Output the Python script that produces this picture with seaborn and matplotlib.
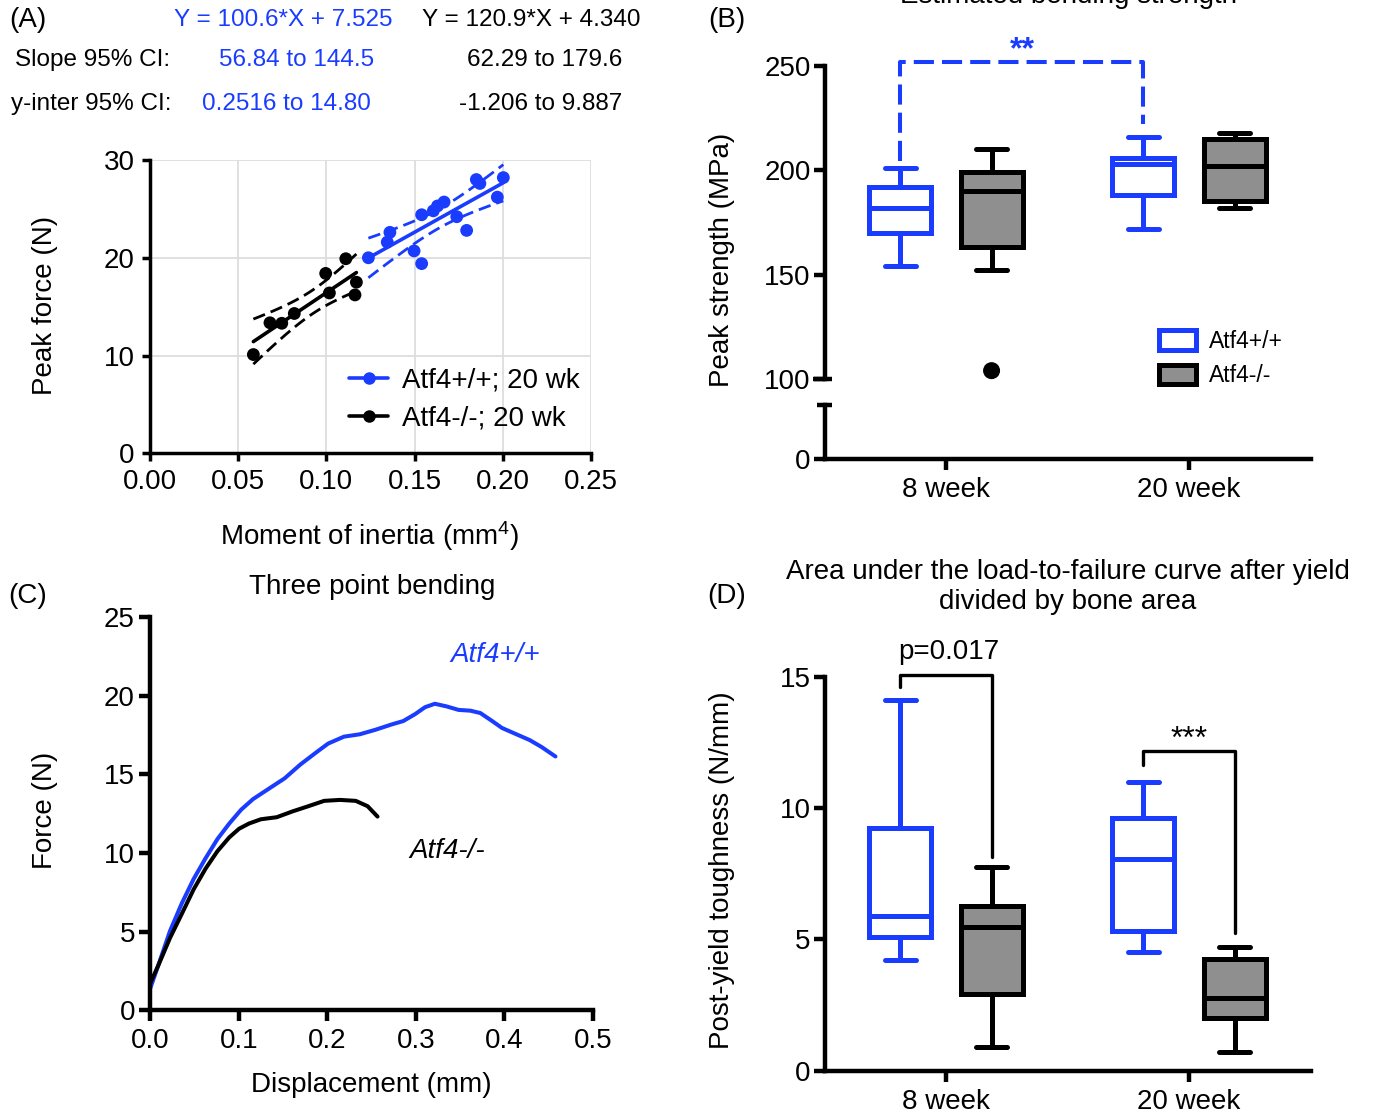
import numpy as np
import pandas as pd
import matplotlib
matplotlib.use("Agg")
import matplotlib.pyplot as plt
import matplotlib.transforms as mtransforms
from matplotlib.patches import Patch
from matplotlib.lines import Line2D
import seaborn as sns

# ---------------- data ----------------
# (A) peak force vs. moment of inertia, 20 week femurs
moi_wt = [0.1238, 0.136, 0.1345, 0.154, 0.1497, 0.154, 0.1606, 0.163, 0.1667,
          0.1739, 0.1795, 0.185, 0.187, 0.2003, 0.1969]
force_wt = [20.0, 22.6, 21.6, 24.4, 20.7, 19.4, 24.8, 25.3, 25.7,
            24.2, 22.8, 28.0, 27.6, 28.2, 26.2]
moi_ko = [0.0586, 0.068, 0.0747, 0.0818, 0.0996, 0.1017, 0.111, 0.117, 0.1162]
force_ko = [10.1, 13.35, 13.3, 14.3, 18.4, 16.4, 19.9, 17.5, 16.2]
fit_wt = (100.6, 7.525)          # slope, intercept
fit_ko = (120.9, 4.340)
slope_ci_wt = (56.84, 144.5)
slope_ci_ko = (62.29, 179.6)
intercept_ci_wt = (0.2516, 14.80)
intercept_ci_ko = (-1.206, 9.887)

# (C) representative force-displacement curves
disp_wt = [0.0, 0.0089, 0.0223, 0.0357, 0.049, 0.0625, 0.0759, 0.0893, 0.1027,
           0.1161, 0.1339, 0.1518, 0.1696, 0.1875, 0.2009, 0.2188, 0.2366,
           0.2545, 0.2723, 0.2857, 0.2991, 0.3103, 0.3214, 0.3348, 0.3482,
           0.3616, 0.3728, 0.3862, 0.3973, 0.4107, 0.4286, 0.442, 0.4576]
load_wt = [1.39, 2.82, 5.03, 6.8, 8.34, 9.66, 10.88, 11.87, 12.75,
           13.42, 14.08, 14.74, 15.62, 16.39, 16.95, 17.39, 17.54,
           17.83, 18.16, 18.38, 18.82, 19.26, 19.48, 19.31, 19.09,
           19.04, 18.89, 18.38, 17.94, 17.61, 17.17, 16.73, 16.13]
disp_ko = [0.0, 0.0089, 0.0223, 0.0357, 0.049, 0.0625, 0.0759, 0.0893, 0.1004,
           0.1116, 0.125, 0.1429, 0.1607, 0.1786, 0.1964, 0.2143, 0.2321,
           0.2455, 0.2567]
load_ko = [1.72, 2.82, 4.59, 6.13, 7.68, 9.0, 10.11, 10.99, 11.54,
           11.87, 12.14, 12.27, 12.64, 12.97, 13.31, 13.37, 13.31,
           12.97, 12.31]

weeks = ["8 week", "20 week"]
genotypes = ["Atf4+/+", "Atf4-/-"]

# (B) estimated bending strength (MPa): min, Q1, median, Q3, max
strength_wt_8 = [154, 170, 182, 192, 201]
strength_ko_8 = [152, 163, 190, 199, 210]
strength_wt_20 = [172, 188, 203, 206, 216]
strength_ko_20 = [182, 185, 202, 215, 218]
strength_outlier_ko_8 = [104]

# (D) post-yield toughness (N/mm): min, Q1, median, Q3, max
tough_wt_8 = [4.2, 5.1, 5.9, 9.25, 14.1]
tough_ko_8 = [0.9, 2.9, 5.45, 6.25, 7.75]
tough_wt_20 = [4.5, 5.3, 8.05, 9.6, 11.0]
tough_ko_20 = [0.7, 2.0, 2.75, 4.25, 4.7]

# ---------------- style ----------------
BLUE = "#1a3cff"
GRAY = "#8f8f8f"
W, H = 1373, 1114
FS = 20

sns.set_theme(style="ticks")
plt.rcParams["font.family"] = ["Liberation Sans", "DejaVu Sans"]
plt.rcParams["mathtext.fontset"] = "custom"
plt.rcParams["mathtext.rm"] = "Liberation Sans"
plt.rcParams["mathtext.it"] = "Liberation Sans:italic"
plt.rcParams["mathtext.bf"] = "Liberation Sans:bold"
for key in ("text.color", "axes.labelcolor", "xtick.color", "ytick.color",
            "xtick.labelcolor", "ytick.labelcolor", "axes.edgecolor"):
    plt.rcParams[key] = "black"

fig = plt.figure(figsize=(W / 100, H / 100), dpi=100)
fig.patch.set_facecolor("white")


def add_ax(left, top, right, bottom):
    return fig.add_axes([left / W, 1 - bottom / H, (right - left) / W, (bottom - top) / H])


def ftext(x, y, s, **kw):
    kw.setdefault("ha", "center")
    kw.setdefault("va", "center")
    kw.setdefault("fontsize", FS)
    kw.setdefault("color", "black")
    fig.text(x / W, 1 - y / H, s, **kw)


def style_axis(ax, lw, ticklen):
    for side in ("top", "right"):
        ax.spines[side].set_visible(False)
    for side in ("left", "bottom"):
        ax.spines[side].set_linewidth(lw)
        ax.spines[side].set_color("black")
    ax.tick_params(axis="both", which="major", direction="out", length=ticklen,
                   width=lw, color="black", labelsize=FS, labelcolor="black", pad=5)
    ax.set_facecolor("white")


# ---------------- (A) regression scatter ----------------
axA = add_ax(150, 160, 591, 453.3)
axA.grid(True, color="#dddddd", lw=1.3)
axA.set_axisbelow(True)


def draw_fit(ax, xs, ys, fit, slope_ci, color):
    xs = np.asarray(xs)
    n = len(xs)
    xbar = xs.mean()
    sxx = ((xs - xbar) ** 2).sum()
    half = (slope_ci[1] - slope_ci[0]) / 2
    grid = np.linspace(xs.min(), xs.max(), 60)
    line = fit[0] * grid + fit[1]
    band = half * np.sqrt(sxx / n + (grid - xbar) ** 2)
    sns.lineplot(x=grid, y=line, color=color, lw=2.6, ax=ax, estimator=None, sort=False)
    for sgn in (1, -1):
        sns.lineplot(x=grid, y=line + sgn * band, color=color, lw=2.0,
                     linestyle=(0, (4.5, 2.2)), ax=ax, estimator=None, sort=False)
    sns.scatterplot(x=xs, y=ys, color=color, s=85, edgecolor="none", ax=ax, zorder=4)


draw_fit(axA, moi_wt, force_wt, fit_wt, slope_ci_wt, BLUE)
draw_fit(axA, moi_ko, force_ko, fit_ko, slope_ci_ko, "black")
axA.set_xlim(0, 0.25)
axA.set_ylim(0, 30)
axA.set_xticks(np.arange(0, 0.2501, 0.05))
axA.set_xticklabels([f"{v:.2f}" for v in np.arange(0, 0.2501, 0.05)])
axA.set_yticks([0, 10, 20, 30])
style_axis(axA, 2.5, 6)
handles = [Line2D([], [], color=BLUE, marker="o", lw=2.6, ms=8),
           Line2D([], [], color="black", marker="o", lw=2.6, ms=8)]
axA.legend(handles, ["Atf4+/+; 20 wk", "Atf4-/-; 20 wk"], loc="lower right",
           bbox_to_anchor=(1.0, 0.035), frameon=False, fontsize=FS,
           handlelength=1.4, handletextpad=0.5, labelspacing=0.45, borderaxespad=0,
           labelcolor="black")

# regression summary above panel A
HS = 17.5
ftext(283, 20, f"Y = {fit_wt[0]}*X + {fit_wt[1]}", color=BLUE, fontsize=HS)
ftext(531, 20, f"Y = {fit_ko[0]}*X + {fit_ko[1]:.3f}", fontsize=HS)
ftext(15, 60, "Slope 95% CI:", ha="left", fontsize=HS)
ftext(297, 60, f"{slope_ci_wt[0]} to {slope_ci_wt[1]}", color=BLUE, fontsize=HS)
ftext(545, 60, f"{slope_ci_ko[0]} to {slope_ci_ko[1]}", fontsize=HS)
ftext(11, 104, "y-inter 95% CI:", ha="left", fontsize=HS)
ftext(286, 104, f"{intercept_ci_wt[0]} to {intercept_ci_wt[1]:.2f}", color=BLUE, fontsize=HS)
ftext(541, 104, f"{intercept_ci_ko[0]} to {intercept_ci_ko[1]}", fontsize=HS)
ftext(28, 20, "(A)")
ftext(45, 305, "Peak force (N)", rotation=90)
ftext(370, 536, "Moment of inertia (mm$^{4}$)")

# ---------------- (C) force-displacement ----------------
axC = add_ax(150.2, 616.9, 593, 1010.3)
sns.lineplot(x=disp_wt, y=load_wt, color=BLUE, lw=2.9, sort=False, estimator=None, ax=axC)
sns.lineplot(x=disp_ko, y=load_ko, color="black", lw=2.9, sort=False, estimator=None, ax=axC)
axC.set_xlim(0, 0.5)
axC.set_ylim(0, 25)
axC.set_xticks(np.arange(0, 0.501, 0.1))
axC.set_xticklabels([f"{v:.1f}" for v in np.arange(0, 0.501, 0.1)])
axC.set_yticks(np.arange(0, 26, 5))
style_axis(axC, 3.2, 8)
axC.tick_params(axis="y", pad=3)
axC.text(0.39, 22.6, "Atf4+/+", color=BLUE, style="italic", fontsize=FS, ha="center", va="center")
axC.text(0.335, 10.15, "Atf4-/-", color="black", style="italic", fontsize=FS, ha="center", va="center")
ftext(28, 596, "(C)")
ftext(372, 587, "Three point bending")
ftext(45, 810, "Force (N)", rotation=90)
ftext(371, 1085, "Displacement (mm)")

# ---------------- box plot helpers ----------------
BOX_W = 0.255          # box width in category units
DODGE = 0.1875         # offset of each genotype from the category centre
box_styles = [("Atf4+/+", "white", BLUE, -DODGE), ("Atf4-/-", GRAY, "black", DODGE)]


def draw_boxes(ax, summaries):
    for geno, face, edge, offset in box_styles:
        rows = [{"pos": wi + offset, "value": v}
                for wi, week in enumerate(weeks) for v in summaries[(week, geno)]]
        df = pd.DataFrame(rows)
        sns.boxplot(data=df, x="pos", y="value", orient="x", native_scale=True,
                    width=BOX_W, color=face, saturation=1, linecolor=edge,
                    linewidth=3.6, whis=np.inf, showfliers=False, ax=ax)
    ax.set_xlabel("")
    ax.set_ylabel("")
    ax.set_xlim(-0.5, 1.5)
    ax.set_xticks([0, 1])
    ax.set_xticklabels(weeks)


# ---------------- (B) bending strength, broken axis ----------------
strength = {
    ("8 week", "Atf4+/+"): strength_wt_8,
    ("8 week", "Atf4-/-"): strength_ko_8,
    ("20 week", "Atf4+/+"): strength_wt_20,
    ("20 week", "Atf4-/-"): strength_ko_20,
}
axBt = add_ax(824.5, 44.8, 1310.5, 379)
axBb = add_ax(824.5, 405, 1310.5, 459.3)
draw_boxes(axBt, strength)
sns.scatterplot(x=[0 + DODGE] * len(strength_outlier_ko_8), y=strength_outlier_ko_8,
                color="black", s=150, edgecolor="none", ax=axBt, zorder=5, clip_on=False)
axBt.set_ylim(100, 260)
axBt.set_yticks([100, 150, 200, 250])
style_axis(axBt, 3.2, 8)
axBt.spines["left"].set_bounds(100, 250)
axBt.spines["bottom"].set_visible(False)
axBt.tick_params(axis="x", bottom=False, labelbottom=False)
axBt.tick_params(axis="y", pad=2)
axBt.patch.set_alpha(0)

axBb.set_xlim(-0.5, 1.5)
axBb.set_ylim(0, 25)
axBb.set_yticks([0])
axBb.set_xticks([0, 1])
axBb.set_xticklabels(weeks)
style_axis(axBb, 3.2, 8)
axBb.tick_params(axis="y", pad=2)
axBb.patch.set_alpha(0)
# axis-break caps
for ax, yv, x0 in [(axBt, 100, -0.024), (axBb, 25, -0.016)]:
    tr = mtransforms.blended_transform_factory(ax.transAxes, ax.transData)
    ax.plot([x0, 0.016], [yv, yv], transform=tr, color="black", lw=3.2,
            clip_on=False, solid_capstyle="butt")

# significance bracket (Atf4+/+ 8 vs 20 week)
axBt.plot([0 - DODGE, 0 - DODGE, 1 - DODGE, 1 - DODGE], [204.5, 251.6, 251.6, 222],
          color=BLUE, lw=2.9, linestyle=(0, (5, 2)), clip_on=False)
axBt.text(0.5 - DODGE, 257.5, "**", color=BLUE, fontsize=23, fontweight="bold",
          ha="center", va="center")

leg_handles = [Patch(facecolor="white", edgecolor=BLUE, lw=3.6),
               Patch(facecolor=GRAY, edgecolor="black", lw=3.6)]
axBt.legend(leg_handles, genotypes, loc="upper left", bbox_to_anchor=(1159 / W, 1 - 330 / H),
            bbox_transform=fig.transFigure, frameon=False, fontsize=16.5,
            handlelength=1.6, handleheight=0.95, handletextpad=0.6, labelspacing=0.5,
            borderpad=0, borderaxespad=0, labelcolor="black")

ftext(727, 20, "(B)")
fig.text(1068 / W, 1 - 3 / H, "Estimated bending strength", ha="center", va="baseline",
         fontsize=FS, color="black")
ftext(722, 260, "Peak strength (MPa)", rotation=90)

# ---------------- (D) post-yield toughness ----------------
toughness = {
    ("8 week", "Atf4+/+"): tough_wt_8,
    ("8 week", "Atf4-/-"): tough_ko_8,
    ("20 week", "Atf4+/+"): tough_wt_20,
    ("20 week", "Atf4-/-"): tough_ko_20,
}
axD = add_ax(824.5, 637.1, 1310.5, 1070.6)
draw_boxes(axD, toughness)
axD.set_ylim(0, 16.5)
axD.set_yticks([0, 5, 10, 15])
style_axis(axD, 3.2, 8)
axD.spines["left"].set_bounds(0, 15)
axD.tick_params(axis="y", pad=2)

axD.plot([0 - DODGE, 0 - DODGE, 0 + DODGE, 0 + DODGE], [14.6, 15.07, 15.07, 8.14],
         color="black", lw=2.4, clip_on=False)
axD.text(0.012, 15.95, "p=0.017", fontsize=FS, ha="center", va="center", color="black")
axD.plot([1 - DODGE, 1 - DODGE, 1 + DODGE, 1 + DODGE], [11.63, 12.17, 12.17, 5.25],
         color="black", lw=2.4, clip_on=False)
axD.text(1.0, 12.6, "***", fontsize=23, ha="center", va="center", color="black")

ftext(727, 596, "(D)")
ftext(1068, 587, "Area under the load-to-failure curve after yield\ndivided by bone area",
      linespacing=1.2)
ftext(722, 870, "Post-yield toughness (N/mm)", rotation=90)

fig.savefig("out.png", dpi=100, facecolor="white")
